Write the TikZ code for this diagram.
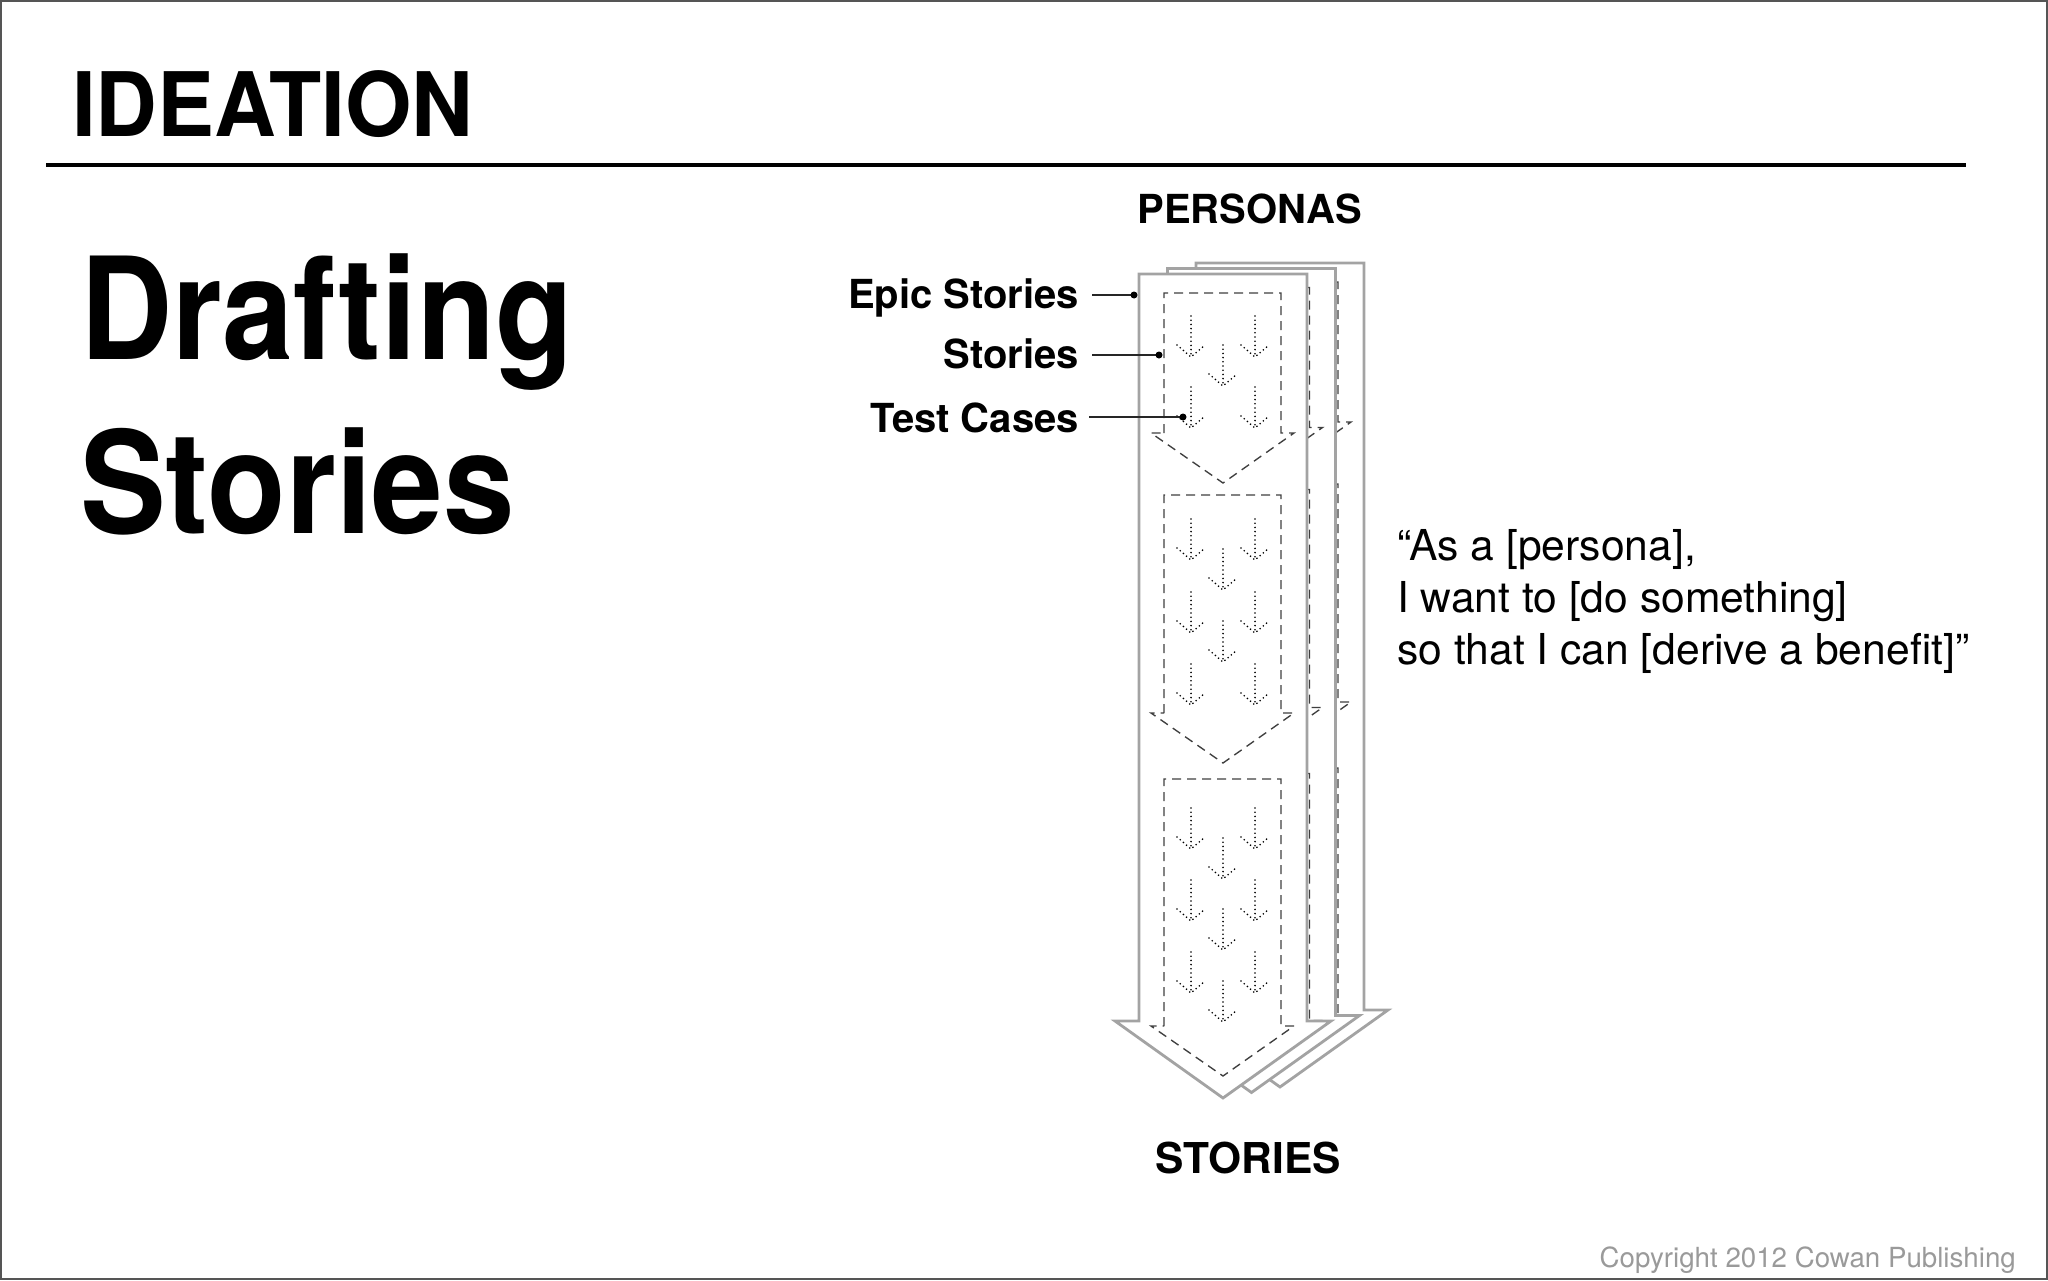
\documentclass[tikz,border=0pt]{standalone}
\usepackage{fontspec}
\setmainfont{TeX Gyre Heros}
\usepackage{xcolor}
\usepackage{tikz}
\usetikzlibrary{calc}
\definecolor{ink}{HTML}{000000}
\definecolor{frame}{HTML}{555555}
\definecolor{sheetline}{HTML}{A3A3A3}
\definecolor{dashline}{HTML}{3F3F3F}
\definecolor{muted}{HTML}{9A9A9A}
\tikzset{
  sheet/.style={draw=sheetline, fill=white, line width=2.8pt, line join=miter},
  chunkline/.style={draw=dashline, line width=1.35pt, dash pattern=on 9pt off 6pt},
  task/.style={draw=ink, line width=1.8pt, line cap=round, dash pattern=on 0pt off 4.2pt},
  leader/.style={draw=ink!85, line width=1.3pt},
  lab/.style={text=ink, inner sep=0pt, font=\fontsize{40}{48}\selectfont\bfseries},
  quote/.style={text=ink, inner sep=0pt, font=\fontsize{42.6}{52}\selectfont},
  headline/.style={anchor=base west, inner sep=0pt, font=\fontsize{142}{170}\selectfont\bfseries},
}
% one dotted story arrow, top at (#1,#2)
\newcommand{\taskarrow}[2]{%
  \draw[task] (#1,#2) -- (#1,#2+41);
  \draw[task] (#1-14,#2+29) -- (#1,#2+41) -- (#1+14,#2+29);
}
% one dashed epic, sides from #1 down to #2
\newcommand{\epicchunk}[2]{%
  \draw[chunkline] (1164,#2) -- (1164,#1) -- (1281,#1) -- (1281,#2) -- (1294,#2)
    -- (1223,#2+50) -- (1151,#2) -- cycle;
}
\newcommand{\personasheet}{%
  \filldraw[sheet] (1139,274) -- (1307,274) -- (1307,1021) -- (1331,1021)
    -- (1223,1098) -- (1115,1021) -- (1139,1021) -- cycle;
  \epicchunk{293}{433}
  \epicchunk{495}{713}
  \epicchunk{779}{1026}
  \foreach \y in {316,387,519,592,664,808,880,952} {
    \taskarrow{1191}{\y}
    \taskarrow{1255}{\y}
  }
  \foreach \y in {345,549,621,838,909,981} {
    \taskarrow{1223}{\y}
  }
}

\begin{document}
\begin{tikzpicture}[x=1pt, y=-1pt]
  \useasboundingbox (0,0) rectangle (2048,1280);
  \draw[frame, line width=2pt] (1,1) rectangle (2047,1279);

  % heading
  \node[anchor=base west, inner sep=0pt, font=\fontsize{89}{100}\selectfont\bfseries] (ideation) at (72,136) {\scalebox{0.96}[1]{IDEATION}};
  \draw[ink, line width=4pt] (46,165) -- (1966,165);
  \node[headline] (drafting) at (80,359) {\scalebox{0.9}[1]{Drafting}};
  \node[headline] (stories) at (80,533) {\scalebox{0.905}[1]{Stories}};

  % persona sheets, back to front
  \foreach \dx/\dy in {57/-11, 28.5/-5.5, 0/0} {
    \begin{scope}[shift={(\dx,\dy)}]
      \personasheet
    \end{scope}
  }

  \node[lab, anchor=base] (personas) at (1249.5,223) {PERSONAS};
  \node[lab, anchor=base, font=\fontsize{42.5}{50}\selectfont\bfseries] (result) at (1248,1173) {STORIES};

  % leaders
  \coordinate (epicdot) at (1134,295);
  \coordinate (storydot) at (1159,355);
  \coordinate (testdot) at (1183,417);
  \node[lab, anchor=base east] (epic) at (1079,308) {Epic Stories};
  \node[lab, anchor=base east] (story) at (1079,368) {Stories};
  \node[lab, anchor=base east] (test) at (1079,432) {Test Cases};
  \draw[leader] (epic.east |- epicdot) ++(13,0) -- (epicdot);
  \draw[leader] (story.east |- storydot) ++(13,0) -- (storydot);
  \draw[leader] (test.east |- testdot) ++(10,0) -- (testdot);
  \fill[ink] (epicdot) circle (3.5pt);
  \fill[ink] (storydot) circle (3.5pt);
  \fill[ink] (testdot) circle (3.5pt);

  % template
  \node[quote, anchor=base west] (line1) at (1397,560) {“As a [persona],};
  \node[quote, anchor=base west] (line2) at (1397,612) {I want to [do something]};
  \node[quote, anchor=base west] (line3) at (1397,664) {so that I can [derive a benefit]”};

  \node[anchor=base east, inner sep=0pt, text=muted, font=\fontsize{27.7}{32}\selectfont] (copy) at (2016,1267) {Copyright 2012 Cowan Publishing};
\end{tikzpicture}
\end{document}
